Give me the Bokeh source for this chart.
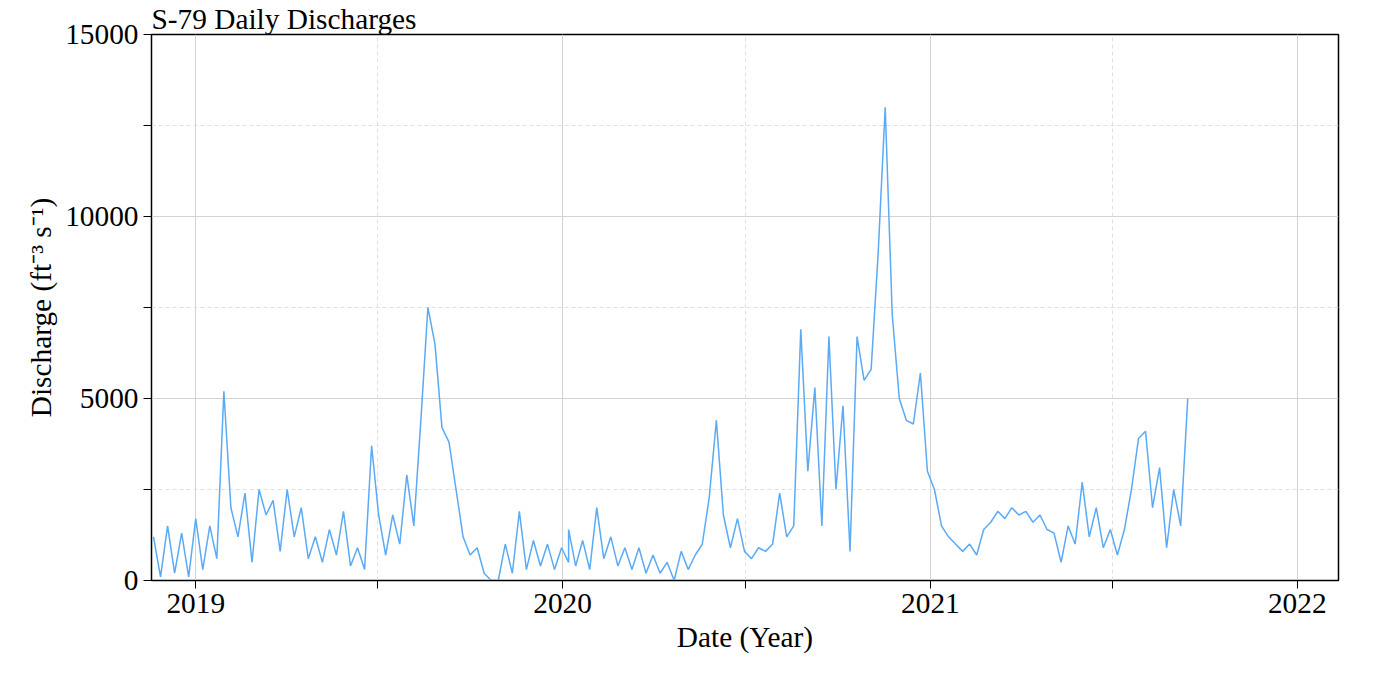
import pandas as pd
from bokeh.plotting import figure
from bokeh.models import ColumnDataSource, FixedTicker, Range1d, DatetimeTickFormatter
from bokeh.embed import file_html
from bokeh.resources import INLINE

# weekly readings (cfs), in three segments
seg1_start = "2018-11-20"
seg1 = [1200, 100, 1500, 200, 1300, 100, 1700, 300, 1500, 600, 5200, 2000, 1200, 2400, 500,
        2500, 1800, 2200, 800, 2500, 1200, 2000, 600, 1200, 500, 1400, 700, 1900, 400, 900,
        300, 3700, 1800, 700, 1800, 1000, 2900, 1500, 4400, 7500, 6500, 4200, 3800, 2500,
        1200, 700, 900, 200, 0, 0, 1000, 200, 1900, 300, 1100, 400, 1000, 300, 900, 500]
seg2_start = "2020-01-07"
seg2 = [1400, 400, 1100, 300, 2000, 600, 1200, 400, 900, 300, 900, 200, 700, 200, 500, 0,
        800, 300, 700, 1000, 2300, 4400, 1800, 900, 1700, 800, 600, 900, 800, 1000, 2400,
        1200, 1500, 6900, 3000, 5300, 1500, 6700, 2500, 4800, 800, 6700, 5500, 5800, 9000,
        13000, 7300, 5000, 4400, 4300, 5700, 3000]
seg3_start = "2021-01-05"
seg3 = [2500, 1500, 1200, 1000, 800, 1000, 700, 1400, 1600, 1900, 1700, 2000, 1800, 1900,
        1600, 1800, 1400, 1300, 500, 1500, 1000, 2700, 1200, 2000, 900, 1400, 700, 1400,
        2500, 3900, 4100, 2000, 3100, 900, 2500, 1500, 5000]

dates, flows = [], []
for start, vals in [(seg1_start, seg1), (seg2_start, seg2), (seg3_start, seg3)]:
    dates += list(pd.date_range(start, periods=len(vals), freq="7D"))
    flows += vals

src = ColumnDataSource(dict(date=dates, q=flows))

def ms(s):
    return pd.Timestamp(s).value // 10**6

year_ticks = [ms(f"{y}-01-01") for y in (2019, 2020, 2021, 2022)]
mid_ticks = [ms(f"{y}-07-01") for y in (2019, 2020, 2021)]

FONT = "Liberation Serif"
p = figure(width=1384, height=684, x_axis_type="datetime", output_backend="svg",
           toolbar_location=None, title="S-79 Daily Discharges",
           x_range=Range1d(ms("2018-11-18"), ms("2022-02-11")), y_range=Range1d(0, 15000),
           min_border_left=151, min_border_right=46, min_border_top=32, min_border_bottom=104)
p.title.text_font = FONT
p.title.text_font_size = "22pt"
p.title.text_font_style = "normal"
p.title.text_color = "black"
p.title.offset = 0
p.title.standoff = 0

p.line("date", "q", source=src, line_color="#5aaaf5", line_width=1.5)

p.xaxis.ticker = FixedTicker(ticks=year_ticks, minor_ticks=mid_ticks)
p.xaxis.formatter = DatetimeTickFormatter(years="%Y", months="%Y", days="%Y")
p.yaxis.ticker = FixedTicker(ticks=[0, 5000, 10000, 15000], minor_ticks=[2500, 7500, 12500])
p.xaxis.axis_label = "Date (Year)"
p.yaxis.axis_label = "Discharge (ft\u207b\u00b3 s\u207b\u00b9)"
for ax in (p.xaxis, p.yaxis):
    ax.axis_label_text_font = FONT
    ax.axis_label_text_font_size = "22pt"
    ax.axis_label_text_font_style = "normal"
    ax.axis_label_text_color = "black"
    ax.major_label_text_font = FONT
    ax.major_label_text_font_size = "22pt"
    ax.major_label_text_color = "black"
    ax.axis_line_color = "black"
    ax.major_tick_line_color = "black"
    ax.minor_tick_line_color = "black"
    ax.major_tick_out = 8
    ax.major_tick_in = 0
    ax.minor_tick_out = 8
    ax.minor_tick_in = 0
p.yaxis.major_label_orientation = "horizontal"

for g in (p.xgrid, p.ygrid):
    g.grid_line_color = "#d3d3d3"
    g.minor_grid_line_color = "#e0e0e0"
    g.minor_grid_line_dash = "4 3"

p.outline_line_color = "black"
p.outline_line_width = 1.5

open("out.html", "w").write(file_html(p, INLINE))
